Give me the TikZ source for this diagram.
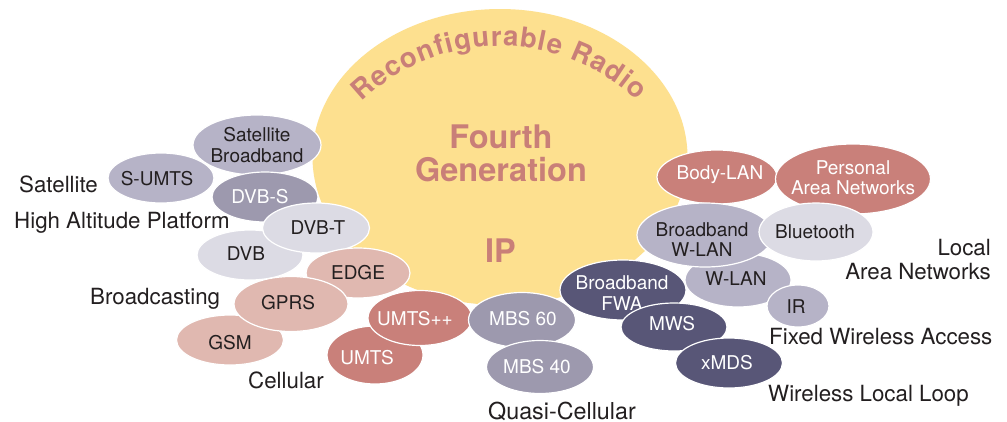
\documentclass[tikz,border=0pt]{standalone}
\usepackage{fontspec}
\setmainfont{TeX Gyre Heros}
\usetikzlibrary{shapes.geometric,decorations.text}

\definecolor{sun}{HTML}{FDE08F}
\definecolor{rosetext}{HTML}{C97F78}
\definecolor{lilac}{HTML}{B6B3C7}
\definecolor{slate}{HTML}{9D99AE}
\definecolor{mist}{HTML}{DCDBE4}
\definecolor{blush}{HTML}{E0B8B0}
\definecolor{rose}{HTML}{C9807A}
\definecolor{navy}{HTML}{585677}
\definecolor{ink}{HTML}{231F20}

\tikzset{
  bubble/.style={ellipse, draw=white, line width=1.2pt, inner sep=0pt},
  btext/.style={font=\fontsize{19}{20.5}\selectfont, align=center, inner sep=0pt},
  group/.style={font=\fontsize{22.3}{23.6}\selectfont, text=ink, inner sep=0pt},
  core/.style={font=\fontsize{32.5}{34}\selectfont\bfseries, text=rosetext, inner sep=0pt},
}

% name, centre x, centre y, width, height, fill, text colour, text, text shift
\newcommand\bub[9]{%
  \node[bubble, fill=#6, minimum width=#4pt, minimum height=#5pt] (#1) at (#2,#3) {};
  \node[btext, text=#7, #9] (#1-text) at (#1.center) {#8};}

\begin{document}
\begin{tikzpicture}[x=1pt, y=-1pt]
  \useasboundingbox[fill=white] (0,0) rectangle (1007,421);

  % central ellipse
  \node[ellipse, fill=sun, minimum width=375pt, minimum height=296pt, inner sep=0pt] (core) at (500,157) {};
  \path[decorate, decoration={text along path, text align=fit to path,
      text={|\fontsize{27.5}{27.5}\selectfont\bfseries\color{rosetext}|Reconfigurable Radio}}]
    (core.center) ++(0,88) ++(134:199pt) arc[start angle=134, end angle=46.5, radius=199pt];
  \node[core, anchor=base] (fourth) at (501,148.3) {Fourth};
  \node[core, anchor=base] (generation) at (501,181.7) {Generation};
  \node[core, anchor=base] (ip) at (500.5,262) {IP};

  % satellite and broadcasting
  \bub{sumts}{161}{178}{106}{50}{lilac}{ink}{S-UMTS}{xshift=-4pt, yshift=-1pt}
  \bub{satbb}{257}{145}{128}{60}{lilac}{ink}{Satellite\\Broadband}{}
  \bub{dvbs}{265}{197}{106}{50}{slate}{white}{DVB-S}{xshift=-5pt}
  \bub{dvb}{250}{255}{106}{50}{mist}{ink}{DVB}{xshift=-4pt, yshift=1pt}
  \bub{dvbt}{316}{228}{107}{50}{mist}{ink}{DVB-T}{xshift=2pt}

  % cellular
  \bub{edge}{358}{273}{104}{50}{blush}{ink}{EDGE}{}
  \bub{gsm}{230}{340}{107}{50}{blush}{ink}{GSM}{yshift=-3pt}
  \bub{gprs}{291}{304}{114}{55}{blush}{ink}{GPRS}{xshift=-3pt, yshift=1pt}
  \bub{umts}{375}{355}{96}{58}{rose}{white}{UMTS}{xshift=-8pt, yshift=-3pt}
  \bub{umtspp}{420}{318}{104}{55}{rose}{white}{UMTS++}{xshift=-5pt, yshift=-1pt}

  % personal and local area networks
  \bub{bodylan}{717}{177}{120}{54}{rose}{white}{Body-LAN}{xshift=3pt, yshift=2pt}
  \bub{pan}{853}{179}{155}{70}{rose}{white}{Personal\\Area Networks}{yshift=1.5pt}
  \bub{wlan}{738}{280}{106}{54}{lilac}{ink}{W-LAN}{xshift=-2pt, yshift=1pt}
  \bub{ir}{798}{306}{62}{42}{lilac}{ink}{IR}{xshift=-2pt, yshift=-1pt}
  \bub{bbwlan}{705}{235}{136}{64}{lilac}{ink}{Broadband\\W-LAN}{xshift=-3pt, yshift=-4.5pt}
  \bub{bluetooth}{816}{232}{114}{58}{mist}{ink}{Bluetooth}{xshift=-1pt}

  % fixed wireless access
  \bub{fwa}{623}{290}{126}{60}{navy}{white}{Broadband\\FWA}{xshift=-1pt, yshift=-3pt}
  \bub{mws}{674}{327}{106}{48}{navy}{white}{MWS}{xshift=-2pt, yshift=3pt}
  \bub{xmds}{729}{363}{107}{50}{navy}{white}{xMDS}{xshift=-2pt}

  % quasi-cellular
  \bub{mbs60}{522}{320}{107}{55}{slate}{white}{MBS 60}{xshift=1pt, yshift=1pt}
  \bub{mbs40}{540}{367}{107}{53}{slate}{white}{MBS 40}{xshift=-3pt}

  % group labels
  \node[group, anchor=base west] (l-sat) at (19,192) {Satellite};
  \node[group, anchor=base west] (l-hap) at (14,228) {High Altitude Platform};
  \node[group, anchor=base west] (l-bc) at (90,304) {Broadcasting};
  \node[group, anchor=base west] (l-cell) at (248,388) {Cellular};
  \node[group, anchor=base west, font=\fontsize{23.3}{24}\selectfont] (l-qc) at (488,419) {Quasi-Cellular};
  \node[group, anchor=base east] (l-local) at (991,255.7) {Local};
  \node[group, anchor=base east] (l-lan) at (991,279.3) {Area Networks};
  \node[group, anchor=base west] (l-fwa) at (769,344) {Fixed Wireless Access};
  \node[group, anchor=base west] (l-wll) at (768,401) {Wireless Local Loop};
\end{tikzpicture}
\end{document}
